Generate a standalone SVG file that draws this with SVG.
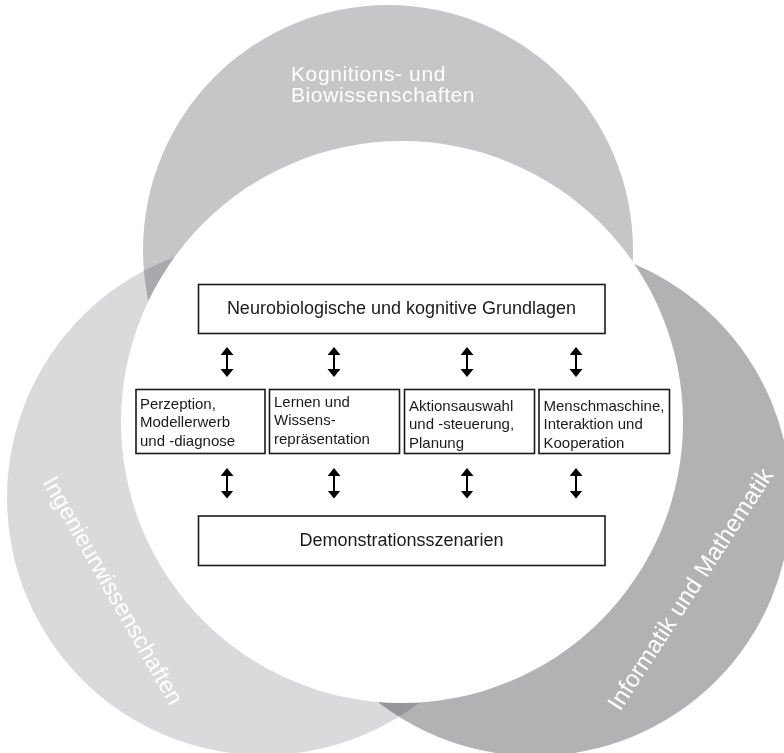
<svg xmlns="http://www.w3.org/2000/svg" width="784" height="753" viewBox="0 0 784 753">
  <style>
    .bg { isolation: isolate; }
    .field { mix-blend-mode: multiply; }
    .ftxt { font-family: "Liberation Sans", Arial, sans-serif; fill: #ffffff; }
    .box { fill: #ffffff; stroke: #1a1a1a; stroke-width: 1.6; }
    .big { font-family: "Liberation Sans", Arial, sans-serif; font-size: 18px; fill: #1a1a1a; text-anchor: middle; }
    .small { font-family: "Liberation Sans", Arial, sans-serif; font-size: 15px; fill: #1a1a1a; }
    .arrow { stroke: #000000; stroke-width: 2; fill: none; marker-start: url(#head); marker-end: url(#head); }
  </style>
  <defs>
    <marker id="head" markerUnits="userSpaceOnUse" markerWidth="10" markerHeight="14" refX="6" refY="6.5" orient="auto-start-reverse" viewBox="0 0 10 14">
      <path d="M0,0 L8,6.5 L0,13 z" fill="#000000"/>
    </marker>
  </defs>
  <rect x="0" y="0" width="784" height="753" fill="#ffffff"/>
  <g id="fields" class="bg">
    <circle class="field" cx="388" cy="250" r="245" fill="#c5c6c8"/>
    <circle class="field" cx="264" cy="498" r="257" fill="#d9dadc"/>
    <circle class="field" cx="535" cy="500" r="256" fill="#b1b2b4"/>
  </g>
  <circle id="core" cx="402" cy="422" r="281" fill="#ffffff"/>
  <g id="field-labels">
    <text class="ftxt" font-size="21" letter-spacing="0.6"><tspan x="291" y="80.5">Kognitions- und</tspan><tspan x="291" y="102">Biowissenschaften</tspan></text>
    <text class="ftxt" font-size="23.5" transform="translate(42,482) rotate(60.3)">Ingenieurwissenschaften</text>
    <text class="ftxt" font-size="24" transform="translate(620,712) rotate(-57)">Informatik und Mathematik</text>
  </g>
  <g id="top-box">
    <rect class="box" x="198.5" y="284.5" width="406.5" height="49"/>
    <text class="big" x="401.5" y="313.5">Neurobiologische und kognitive Grundlagen</text>
  </g>
  <g id="box-perzeption">
    <rect class="box" x="136" y="389.5" width="129" height="64"/>
    <text class="small"><tspan x="140" y="409">Perzeption,</tspan><tspan x="140" y="427.3">Modellerwerb</tspan><tspan x="140" y="445.6">und -diagnose</tspan></text>
  </g>
  <g id="box-lernen">
    <rect class="box" x="269.5" y="389.5" width="130" height="64"/>
    <text class="small"><tspan x="274" y="407">Lernen und</tspan><tspan x="274" y="425.3">Wissens-</tspan><tspan x="274" y="443.6">repräsentation</tspan></text>
  </g>
  <g id="box-aktion">
    <rect class="box" x="404.5" y="389.5" width="130" height="64"/>
    <text class="small"><tspan x="409" y="411">Aktionsauswahl</tspan><tspan x="409" y="429.3">und -steuerung,</tspan><tspan x="409" y="447.6">Planung</tspan></text>
  </g>
  <g id="box-mensch">
    <rect class="box" x="539" y="389.5" width="130.5" height="64"/>
    <text class="small"><tspan x="543.5" y="411">Menschmaschine,</tspan><tspan x="543.5" y="429.3">Interaktion und</tspan><tspan x="543.5" y="447.6">Kooperation</tspan></text>
  </g>
  <g id="bottom-box">
    <rect class="box" x="198.5" y="516" width="406.5" height="49.5"/>
    <text class="big" x="401.5" y="546">Demonstrationsszenarien</text>
  </g>
  <g id="connectors">
    <line class="arrow" x1="227" y1="349" x2="227" y2="375"/>
    <line class="arrow" x1="334" y1="349" x2="334" y2="375"/>
    <line class="arrow" x1="467" y1="349" x2="467" y2="375"/>
    <line class="arrow" x1="576" y1="349" x2="576" y2="375"/>
    <line class="arrow" x1="227" y1="470" x2="227" y2="496.5"/>
    <line class="arrow" x1="334" y1="470" x2="334" y2="496.5"/>
    <line class="arrow" x1="467" y1="470" x2="467" y2="496.5"/>
    <line class="arrow" x1="576" y1="470" x2="576" y2="496.5"/>
  </g>
</svg>
